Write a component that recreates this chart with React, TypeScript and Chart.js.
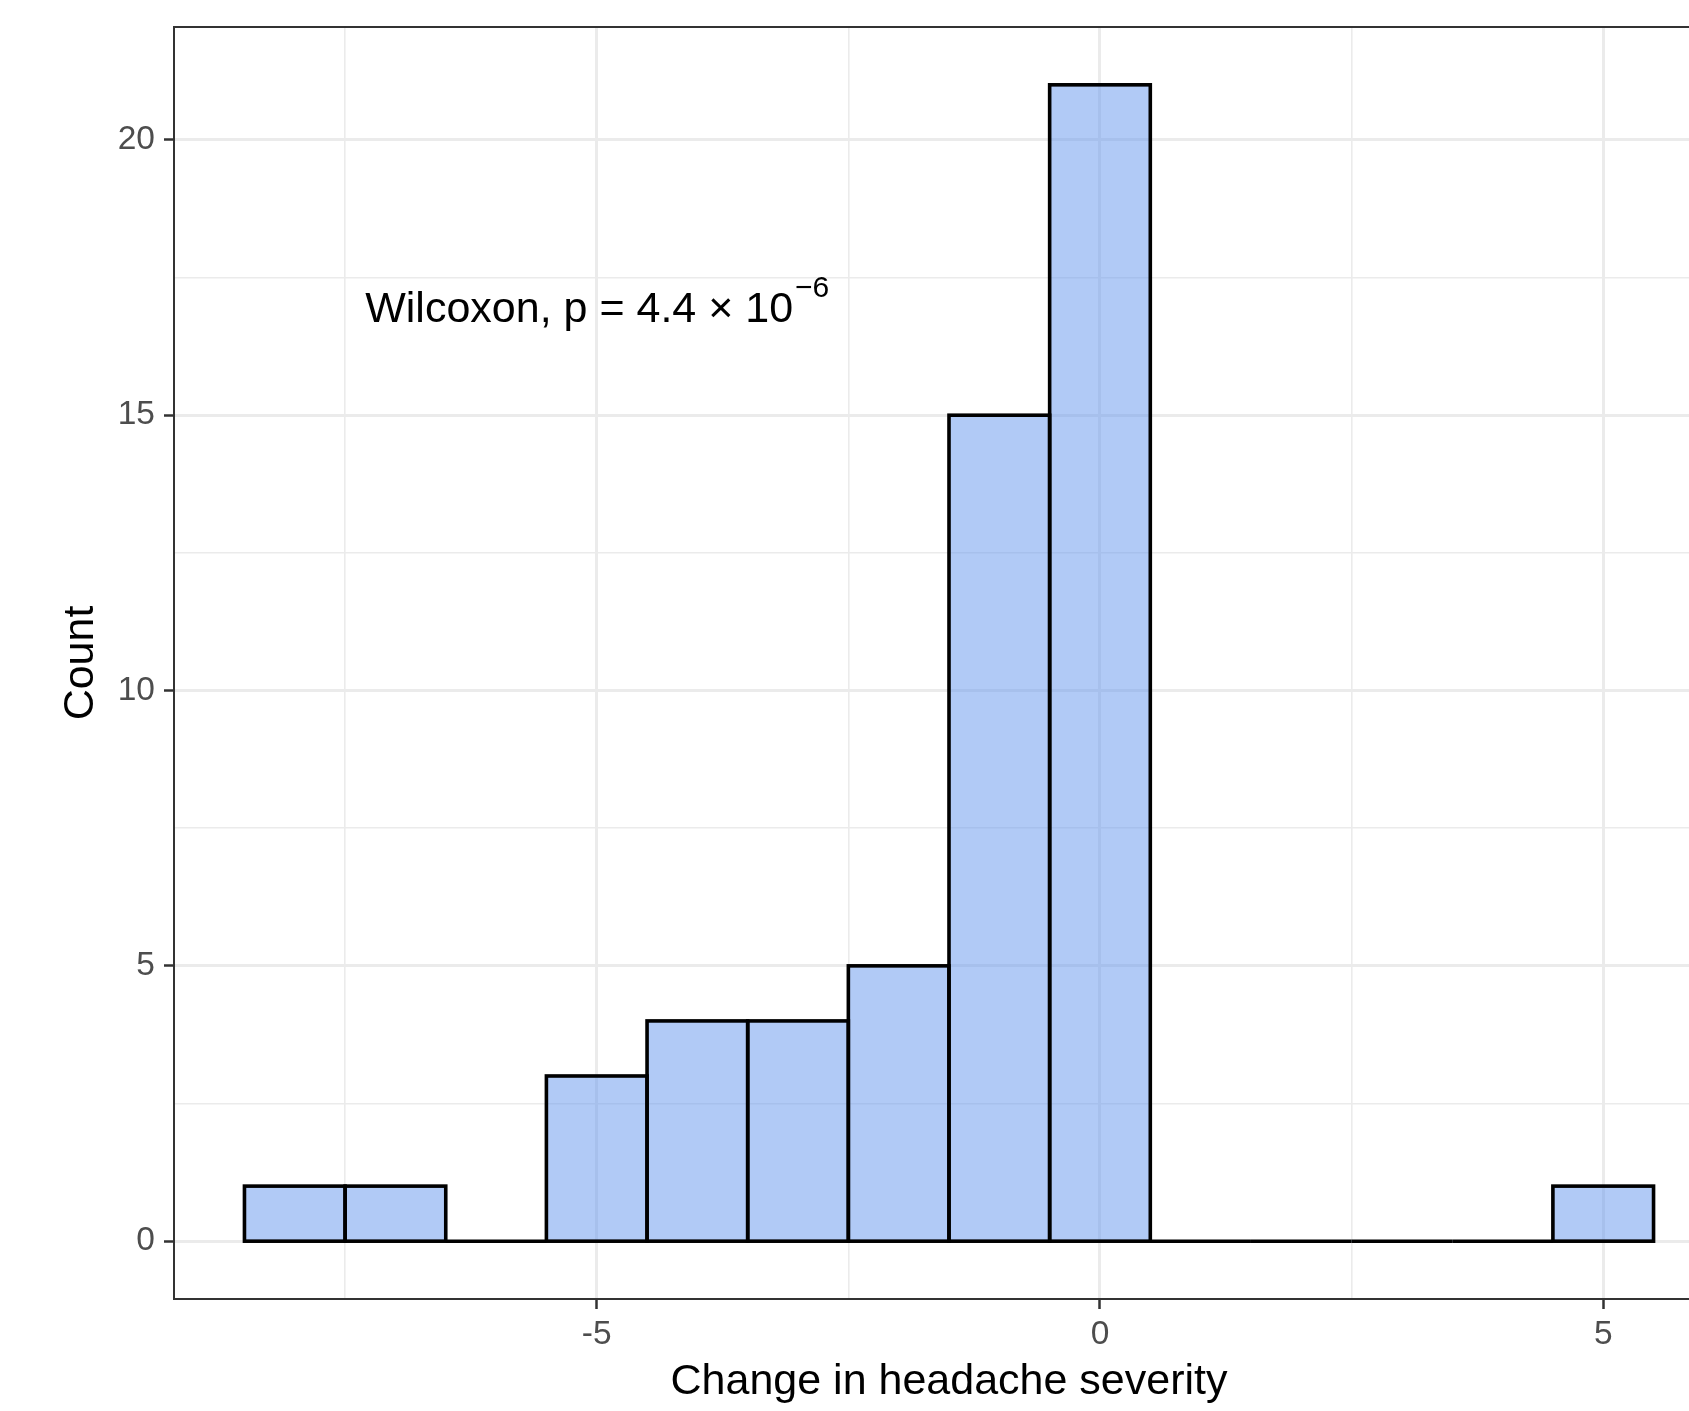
import React, { useEffect, useRef } from "react";
import { Chart, registerables } from "chart.js";

Chart.register(...registerables);

// Histogram bins (width 1) and their counts
const BIN_CENTERS = [-8, -7, -6, -5, -4, -3, -2, -1, 0, 1, 2, 3, 4, 5];
const BIN_COUNTS = [1, 1, 0, 3, 4, 4, 5, 15, 21, 0, 0, 0, 0, 1];
const BIN_WIDTH = 1;

// Axis breaks
const X_MAJOR = [-5, 0, 5];
const X_MINOR = [-7.5, -2.5, 2.5];
const Y_MAJOR = [0, 5, 10, 15, 20];
const Y_MINOR = [2.5, 7.5, 12.5, 17.5];
const X_LIMITS = [-9.2, 6.2];
const Y_LIMITS = [-1.05, 22.05];

const X_TITLE = "Change in headache severity";
const Y_TITLE = "Count";

// Test annotation
const ANNOT_TEXT = "Wilcoxon, p = 4.4 × 10";
const ANNOT_EXP = "\u22126";
const ANNOT_POS = { x: -7.3, y: 16.9 };

const FONT = "'Liberation Sans', Arial, Helvetica, sans-serif";
const CANVAS_W = 1780;
const CANVAS_H = 1411;

const isMajor = (list: number[], v: number) => list.some((m) => Math.abs(m - v) < 1e-9);

const histOutline = {
  id: "histOutline",
  afterDatasetsDraw(chart: any) {
    const { ctx, scales } = chart;
    const xs = scales.x;
    const ys = scales.y;
    ctx.save();
    ctx.beginPath();
    ctx.rect(chart.chartArea.left, chart.chartArea.top, chart.chartArea.width, chart.chartArea.height);
    ctx.clip();
    ctx.strokeStyle = "#000000";
    ctx.lineWidth = 3.6;
    ctx.lineJoin = "miter";
    BIN_CENTERS.forEach((c, i) => {
      const x0 = xs.getPixelForValue(c - BIN_WIDTH / 2);
      const x1 = xs.getPixelForValue(c + BIN_WIDTH / 2);
      const y0 = ys.getPixelForValue(0);
      const y1 = ys.getPixelForValue(BIN_COUNTS[i]);
      ctx.strokeRect(x0, y1, x1 - x0, y0 - y1);
    });
    ctx.restore();
  },
};

const panelDecor = {
  id: "panelDecor",
  afterDraw(chart: any) {
    const { ctx, chartArea, scales } = chart;
    ctx.save();
    // annotation
    const px = scales.x.getPixelForValue(ANNOT_POS.x);
    const py = scales.y.getPixelForValue(ANNOT_POS.y);
    ctx.fillStyle = "#000000";
    ctx.font = `43px ${FONT}`;
    ctx.textAlign = "left";
    ctx.textBaseline = "middle";
    ctx.fillText(ANNOT_TEXT, px, py);
    const w = ctx.measureText(ANNOT_TEXT).width;
    ctx.font = `30px ${FONT}`;
    ctx.fillText(ANNOT_EXP, px + w + 2, py - 22);
    // panel border
    ctx.strokeStyle = "#333333";
    ctx.lineWidth = 2;
    ctx.strokeRect(chartArea.left, chartArea.top, chartArea.width, chartArea.height);
    ctx.restore();
  },
};

export default function App() {
  const ref = useRef<HTMLCanvasElement | null>(null);

  useEffect(() => {
    if (!ref.current) return;
    const gridColor = "#ebebeb";
    const chart = new Chart(ref.current, {
      type: "bar",
      data: {
        datasets: [
          {
            data: BIN_CENTERS.map((c, i) => ({ x: c, y: BIN_COUNTS[i] })),
            backgroundColor: "rgba(100,149,237,0.5)",
            borderWidth: 0,
            barPercentage: 1,
            categoryPercentage: 1,
          },
        ],
      },
      options: {
        animation: false,
        responsive: false,
        devicePixelRatio: 1,
        layout: { padding: { left: 0, top: 27, right: CANVAS_W - 1724, bottom: 0 } },
        plugins: { legend: { display: false }, tooltip: { enabled: false } },
        scales: {
          x: {
            type: "linear",
            min: X_LIMITS[0],
            max: X_LIMITS[1],
            offset: false,
            afterBuildTicks: (scale: any) => {
              scale.ticks = [...X_MAJOR, ...X_MINOR].sort((a, b) => a - b).map((v) => ({ value: v }));
            },
            afterFit: (scale: any) => {
              scale.height = 112;
              scale.paddingLeft = 0;
              scale.paddingRight = 0;
            },
            ticks: {
              autoSkip: false,
              maxRotation: 0,
              padding: 6,
              color: "#4d4d4d",
              font: { family: FONT, size: 33.5 },
              callback: (v: any) => (isMajor(X_MAJOR, Number(v)) ? String(v) : ""),
            },
            grid: {
              offset: false,
              drawTicks: true,
              tickLength: 10,
              color: (c: any) => gridColor,
              lineWidth: (c: any) => (isMajor(X_MAJOR, c.tick?.value) ? 3 : 1.6),
              tickColor: (c: any) => (isMajor(X_MAJOR, c.tick?.value) ? "#333333" : "rgba(0,0,0,0)"),
              tickWidth: 2.5,
            },
            border: { display: false },
            title: {
              display: true,
              text: X_TITLE,
              color: "#000000",
              font: { family: FONT, size: 43 },
              padding: { top: 0, bottom: 3 },
            },
          },
          y: {
            type: "linear",
            min: Y_LIMITS[0],
            max: Y_LIMITS[1],
            afterBuildTicks: (scale: any) => {
              scale.ticks = [...Y_MAJOR, ...Y_MINOR].sort((a, b) => a - b).map((v) => ({ value: v }));
            },
            afterFit: (scale: any) => {
              scale.width = 174;
              scale.paddingTop = 0;
              scale.paddingBottom = 0;
            },
            ticks: {
              autoSkip: false,
              padding: 9,
              color: "#4d4d4d",
              font: { family: FONT, size: 33.5 },
              callback: (v: any) => (isMajor(Y_MAJOR, Number(v)) ? String(v) : ""),
            },
            grid: {
              drawTicks: true,
              tickLength: 10,
              color: (c: any) => gridColor,
              lineWidth: (c: any) => (isMajor(Y_MAJOR, c.tick?.value) ? 3 : 1.6),
              tickColor: (c: any) => (isMajor(Y_MAJOR, c.tick?.value) ? "#333333" : "rgba(0,0,0,0)"),
              tickWidth: 2.5,
            },
            border: { display: false },
            title: {
              display: true,
              text: Y_TITLE,
              color: "#000000",
              font: { family: FONT, size: 43 },
              padding: { top: 55, bottom: 0 },
            },
          },
        },
      },
      plugins: [histOutline, panelDecor],
    } as any);
    return () => chart.destroy();
  }, []);

  return (
    <div
      style={{
        position: "absolute",
        left: 0,
        top: 0,
        width: 1689,
        height: 1411,
        overflow: "hidden",
        background: "#ffffff",
      }}
    >
      <canvas
        ref={ref}
        width={CANVAS_W}
        height={CANVAS_H}
        style={{ display: "block", width: CANVAS_W, height: CANVAS_H }}
      />
    </div>
  );
}
